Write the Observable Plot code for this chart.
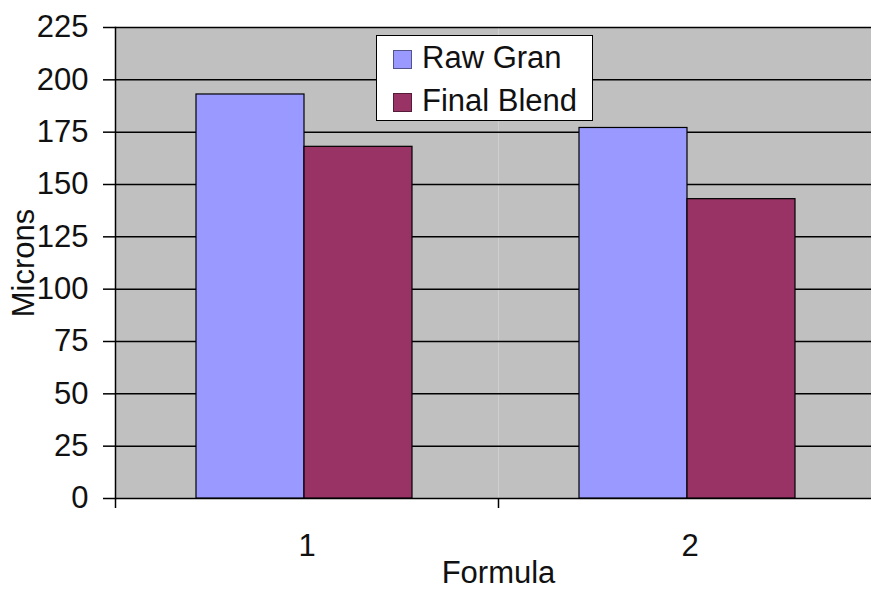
<!DOCTYPE html>
<html>
<head>
<meta charset="utf-8">
<script src="https://cdn.jsdelivr.net/npm/d3@7"></script>
<script src="https://cdn.jsdelivr.net/npm/@observablehq/plot@0.6"></script>
<style>
  html, body { margin: 0; padding: 0; background: #fff; overflow: hidden; }
  #wrap { position: relative; width: 871px; height: 589px; }
  #legend {
    position: absolute; left: 376px; top: 35px; width: 215px; height: 84px;
    background: #fff; border: 1.5px solid #000;
    font-family: "Liberation Sans", Arial, sans-serif; font-size: 31px; color: #111;
  }
  .row { display: flex; align-items: center; height: 43px; line-height: 43px; }
  .sw { width: 19px; height: 19px; margin-left: 16px; margin-right: 10px; margin-top: 3px; box-sizing: border-box; border: 1px solid rgba(0,0,0,0.45); }
</style>
</head>
<body>
<div id="wrap"></div>
<script>
// ---- data ----
const formulas = ["1", "2"];
const seriesNames = ["Raw Gran", "Final Blend"];
const rawGran = [193, 177];
const finalBlend = [168, 143];
const yTicks = [0, 25, 50, 75, 100, 125, 150, 175, 200, 225];
const seriesColors = ["#9999FF", "#993366"];
const yLabel = "Microns";
const xLabel = "Formula";

const data = formulas.flatMap((f, i) => [
  {formula: f, series: seriesNames[0], value: rawGran[i]},
  {formula: f, series: seriesNames[1], value: finalBlend[i]}
]);

const W = 871, H = 589, mL = 115, mR = -10, mT = 27, mB = 91;
const bandStep = (W - mR - mL) / formulas.length;

const chart = Plot.plot({
  width: W, height: H,
  marginLeft: mL, marginRight: mR, marginTop: mT, marginBottom: mB,
  style: {fontFamily: "'Liberation Sans', Arial, sans-serif", fontSize: "31px", color: "#111", background: "white", overflow: "visible"},
  fx: {domain: formulas, padding: 0, axis: null},
  x: {domain: seriesNames, paddingInner: 0, paddingOuter: 0.757, align: 0.485, axis: null},
  y: {domain: [0, 225], axis: null},
  color: {domain: seriesNames, range: seriesColors},
  marks: [
    Plot.frame({fill: "#C0C0C0", stroke: null}),
    Plot.gridY(yTicks, {stroke: "#000", strokeOpacity: 1, strokeWidth: 1.5}),
    Plot.barY(data, {fx: "formula", x: "series", y: "value", fill: "series", stroke: "#000", strokeWidth: 1.2}),
    Plot.frame({anchor: "left", facetAnchor: "left", stroke: "#000", strokeWidth: 1.5}),
    Plot.axisY(yTicks, {
      anchor: "left", tickSize: 12, tickPadding: 15, fontSize: 31, stroke: "#000", strokeWidth: 1.5,
      label: yLabel, labelAnchor: "center", labelOffset: 104, labelArrow: "none"
    }),
    Plot.axisFx({anchor: "bottom", tickSize: 10, stroke: "#000", strokeWidth: 1.5, tickFormat: () => "", label: null, dx: -bandStep / 2}),
    Plot.axisFx({
      anchor: "bottom", tickSize: 0, tickPadding: 35, fontSize: 31,
      label: xLabel, labelAnchor: "center", labelOffset: 84, labelArrow: "none"
    })
  ]
});

const wrap = document.getElementById("wrap");
wrap.appendChild(chart);

// legend overlay
const legend = document.createElement("div");
legend.id = "legend";
seriesNames.forEach((s, i) => {
  const row = document.createElement("div");
  row.className = "row";
  const sw = document.createElement("span");
  sw.className = "sw";
  sw.style.background = seriesColors[i];
  const t = document.createElement("span");
  t.textContent = s;
  row.appendChild(sw);
  row.appendChild(t);
  legend.appendChild(row);
});
wrap.appendChild(legend);
</script>
</body>
</html>
